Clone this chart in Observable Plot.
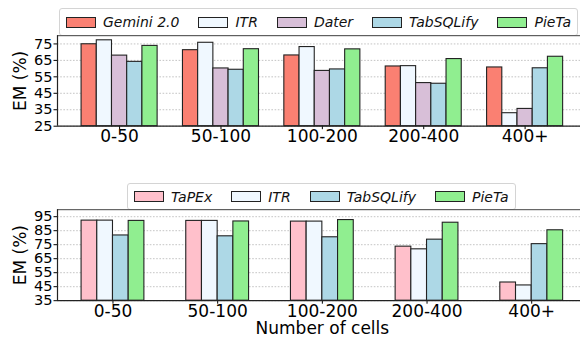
<!DOCTYPE html>
<html><head><meta charset="utf-8">
<script src="https://cdn.jsdelivr.net/npm/d3@7"></script>
<script src="https://cdn.jsdelivr.net/npm/@observablehq/plot@0.6"></script>
<style>
body{margin:0;background:#fff;font-family:"DejaVu Sans";}
#wrap{position:relative;width:580px;height:338px;overflow:hidden;background:#fff;}
.legend{position:absolute;box-sizing:border-box;border:1px solid #d4d4d4;border-radius:3px;background:#fff;display:flex;align-items:center;font-style:italic;font-weight:normal;font-size:14px;color:#111;white-space:nowrap;padding:0 6px;}
.item{display:flex;align-items:center;margin-right:19px}
.item:last-child{margin-right:0}
.sw{width:28px;height:9px;border:1px solid #222;margin-right:7px}
#wrap svg{position:absolute;left:0;}
</style></head>
<body><div id="wrap"></div>
<script>
const groups = ["0-50", "50-100", "100-200", "200-400", "400+"];

const topSeries = ["Gemini 2.0", "ITR", "Dater", "TabSQLify", "PieTa"];
const topColors = ["#FA8072", "#F0F8FF", "#D8BFD8", "#ADD8E6", "#90EE90"];
const topGemini = [74.8, 71.2, 68.0, 61.3, 60.7];
const topITR = [77.2, 75.7, 73.1, 61.5, 32.9];
const topDater = [67.9, 60.1, 58.6, 51.2, 35.5];
const topTabSQLify = [64.1, 59.3, 59.5, 50.8, 60.2];
const topPieTa = [73.8, 71.8, 71.7, 65.8, 67.2];
const topTicks = [25, 35, 45, 55, 65, 75];

const botSeries = ["TaPEx", "ITR", "TabSQLify", "PieTa"];
const botColors = ["#FFC0CB", "#F0F8FF", "#ADD8E6", "#90EE90"];
const botTaPEx = [92.2, 92.0, 91.5, 73.6, 48.0];
const botITR = [92.2, 92.0, 91.5, 71.7, 45.9];
const botTabSQLify = [81.6, 81.0, 80.3, 78.6, 75.4];
const botPieTa = [92.0, 91.6, 92.6, 90.7, 85.3];
const botTicks = [35, 45, 55, 65, 75, 85, 95];

const xLabel = "Number of cells";
const yLabel = "EM (%)";

function makeRows(series, values, base) {
  const n = series.length, w = 0.15;
  const rows = [];
  series.forEach((s, j) => values[j].forEach((v, i) => {
    const c = i + (j - (n - 1) / 2) * w;
    rows.push({series: s, value: v, base, x1: c - w / 2, x2: c + w / 2});
  }));
  return rows;
}

function makeLegend(series, colors, left, topPx, height) {
  const d = document.createElement("div");
  d.className = "legend";
  d.style.left = left + "px"; d.style.top = topPx + "px"; d.style.height = height + "px";
  series.forEach((s, j) => {
    const it = document.createElement("div"); it.className = "item";
    const sw = document.createElement("div"); sw.className = "sw"; sw.style.background = colors[j];
    const t = document.createElement("span"); t.textContent = s;
    it.appendChild(sw); it.appendChild(t); d.appendChild(it);
  });
  return d;
}

function chart({series, colors, values, ticks, ymin, ymax, xmin, xmax, height, mt, mb, xlabel}) {
  const rows = makeRows(series, values, ymin);
  const marks = [
    Plot.ruleY(ticks, {stroke: "#b5b5b5", strokeDasharray: "1.6,1.6", strokeWidth: 0.8}),
    Plot.rect(rows, {x1: "x1", x2: "x2", y1: "base", y2: "value", fill: "series", stroke: "#222", strokeWidth: 1.1}),
    Plot.axisY({ticks, tickSize: 3.5, tickPadding: 1.5, fontSize: 14.6, label: null}),
    Plot.axisX({ticks: [0, 1, 2, 3, 4], tickFormat: i => groups[i], tickSize: 3.5, tickPadding: 0.5, fontSize: 17, label: null}),
    Plot.ruleY([ymax], {stroke: "#444", strokeWidth: 1}),
    Plot.ruleY([ymin], {stroke: "#222", strokeWidth: 1.2}),
    Plot.ruleX([xmin], {stroke: "#222", strokeWidth: 1.2}),
    Plot.text([yLabel], {text: d => d, frameAnchor: "left", textAnchor: "middle", lineAnchor: "middle", rotate: -90, dx: -37, fontSize: 17})
  ];
  if (xlabel) marks.push(Plot.text([{x: (xmin + xmax) / 2, t: xlabel}], {x: "x", text: "t", frameAnchor: "bottom", lineAnchor: "middle", dy: 28, fontSize: 17}));
  return Plot.plot({
    width: 580, height, marginLeft: 57, marginRight: 0, marginTop: mt, marginBottom: mb,
    style: {background: "transparent", fontFamily: "DejaVu Sans", color: "#000", overflow: "visible"},
    x: {domain: [xmin, xmax], range: [57, 586.7]},
    y: {domain: [ymin, ymax]},
    color: {domain: series, range: colors},
    marks
  });
}

const wrap = document.getElementById("wrap");
wrap.appendChild(makeLegend(topSeries, topColors, 59, 8, 28));
wrap.appendChild(makeLegend(botSeries, botColors, 127, 183, 27));

const topChart = chart({series: topSeries, colors: topColors,
  values: [topGemini, topITR, topDater, topTabSQLify, topPieTa],
  ticks: topTicks, ymin: 25, ymax: 80, xmin: -0.6125, xmax: 4.6125,
  height: 170, mt: 35.2, mb: 44.3});
topChart.style.top = "0px";
wrap.appendChild(topChart);

const botChart = chart({series: botSeries, colors: botColors,
  values: [botTaPEx, botITR, botTabSQLify, botPieTa],
  ticks: botTicks, ymin: 35, ymax: 100, xmin: -0.53, xmax: 4.53,
  height: 168, mt: 39.2, mb: 37.8, xlabel: xLabel});
botChart.style.top = "170px";
wrap.appendChild(botChart);
</script>
</body></html>
